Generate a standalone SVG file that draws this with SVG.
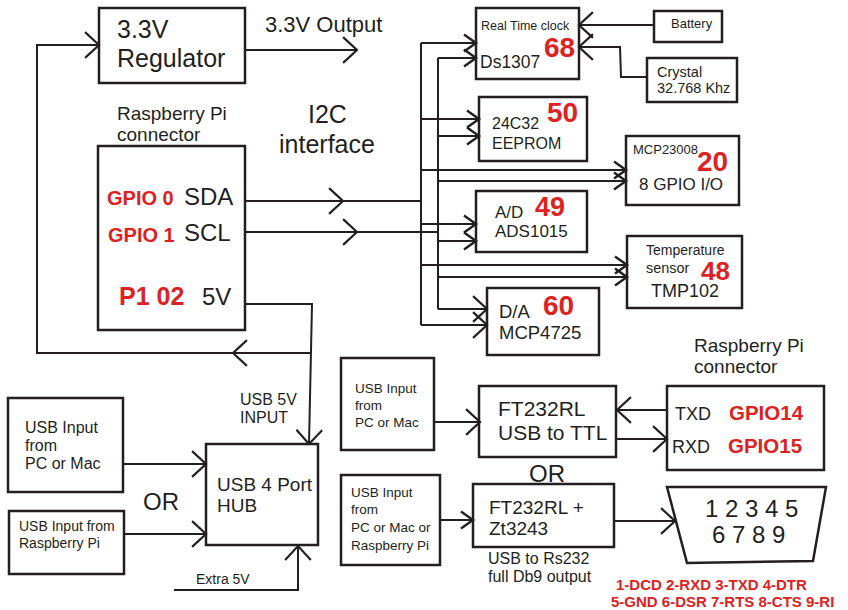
<svg xmlns="http://www.w3.org/2000/svg" width="848" height="610" viewBox="0 0 848 610">
<style>
  .box { fill: none; stroke: #231f20; stroke-width: 2.5; }
  .ln { fill: none; stroke: #231f20; stroke-width: 2; }
  .t { font-family: "Liberation Sans", Arial, sans-serif; fill: #231f20; }
  .r { font-family: "Liberation Sans", Arial, sans-serif; fill: #dc2222; font-weight: bold; }
</style>
<defs>
  <marker id="a" markerUnits="userSpaceOnUse" markerWidth="24" markerHeight="24" viewBox="-12 -10 14 20" refX="0" refY="0" orient="auto" overflow="visible">
    <path d="M-10,-7 L0,0 L-10,7" fill="none" stroke="#231f20" stroke-width="2"/>
  </marker>
  <marker id="ab" markerUnits="userSpaceOnUse" markerWidth="30" markerHeight="30" viewBox="-16 -14 18 28" refX="0" refY="0" orient="auto" overflow="visible">
    <path d="M-13,-12 L0,0 L-13,12" fill="none" stroke="#231f20" stroke-width="2"/>
  </marker>
</defs>
<rect width="848" height="610" fill="#ffffff"/>

<g id="connectors">
  <path class="ln" d="M311,353 L233,353" marker-end="url(#ab)"/>
  <path class="ln" d="M233,353 L37,353 L37,45 L99,45" marker-end="url(#ab)"/>
  <path class="ln" d="M245,304 L312,304 L309,444" marker-end="url(#ab)"/>
  <path class="ln" d="M245,50 L357,50" marker-end="url(#ab)"/>
  <path class="ln" d="M245,201 L343,201" marker-end="url(#ab)"/>
  <path class="ln" d="M343,201 L421,201"/>
  <path class="ln" d="M245,232 L357,232" marker-end="url(#ab)"/>
  <path class="ln" d="M357,232 L438,232"/>
  <path class="ln" d="M421,43 L421,325"/>
  <path class="ln" d="M438,58 L438,309"/>
  <path class="ln" d="M421,43 L476,43" marker-end="url(#a)"/>
  <path class="ln" d="M421,119 L479,119" marker-end="url(#a)"/>
  <path class="ln" d="M421,170 L626,170" marker-end="url(#a)"/>
  <path class="ln" d="M421,224 L476,224" marker-end="url(#a)"/>
  <path class="ln" d="M421,265 L627,265" marker-end="url(#a)"/>
  <path class="ln" d="M421,325 L487,325" marker-end="url(#ab)"/>
  <path class="ln" d="M438,58 L476,58" marker-end="url(#a)"/>
  <path class="ln" d="M438,136 L479,136" marker-end="url(#a)"/>
  <path class="ln" d="M438,181 L626,181" marker-end="url(#a)"/>
  <path class="ln" d="M438,241 L476,241" marker-end="url(#a)"/>
  <path class="ln" d="M438,277 L627,277" marker-end="url(#a)"/>
  <path class="ln" d="M438,309 L487,309" marker-end="url(#ab)"/>
  <path class="ln" d="M654,25 L579,25" marker-end="url(#ab)"/>
  <path class="ln" d="M647,77 L621,77 L620,47 L579,47" marker-end="url(#ab)"/>
  <path class="ln" d="M123,464 L206,464" marker-end="url(#ab)"/>
  <path class="ln" d="M124,534 L206,534" marker-end="url(#ab)"/>
  <path class="ln" d="M174,590 L298,590 L298,546" marker-end="url(#ab)"/>
  <path class="ln" d="M434,422 L480,422" marker-end="url(#ab)"/>
  <path class="ln" d="M667,410 L617,410" marker-end="url(#ab)"/>
  <path class="ln" d="M616,439 L667,439" marker-end="url(#ab)"/>
  <path class="ln" d="M440,520 L473,520" marker-end="url(#a)"/>
  <path class="ln" d="M614,521 L675,521" marker-end="url(#ab)"/>
</g>

<g id="regulator">
  <rect class="box" x="99" y="8" width="146" height="75"/>
  <text class="t" x="117" y="38" font-size="25">3.3V</text>
  <text class="t" x="117" y="67" font-size="25">Regulator</text>
</g>
<g id="output-label">
  <text class="t" x="265" y="32" font-size="22">3.3V Output</text>
</g>
<g id="rpi-label">
  <text class="t" x="117" y="120" font-size="19">Raspberry Pi</text>
  <text class="t" x="117" y="141" font-size="19">connector</text>
</g>
<g id="i2c-label">
  <text class="t" x="308" y="123" font-size="25">I2C</text>
  <text class="t" x="279" y="153" font-size="25">interface</text>
</g>
<g id="rpi-connector">
  <rect class="box" x="98" y="146" width="147" height="184"/>
  <text class="r" x="107" y="205" font-size="20">GPIO 0</text>
  <text class="t" x="184" y="205" font-size="24">SDA</text>
  <text class="r" x="108" y="242" font-size="20">GPIO 1</text>
  <text class="t" x="184" y="241" font-size="24">SCL</text>
  <text class="r" x="119" y="305" font-size="25">P1 02</text>
  <text class="t" x="202" y="305" font-size="24">5V</text>
</g>

<g id="rtc">
  <rect class="box" x="476" y="8" width="103" height="71"/>
  <text class="t" x="481" y="30" font-size="12.5">Real Time clock</text>
  <text class="r" x="544" y="57" font-size="28">68</text>
  <text class="t" x="480" y="68" font-size="17.5">Ds1307</text>
</g>
<g id="battery">
  <rect class="box" x="654" y="11" width="68" height="31"/>
  <text class="t" x="671" y="28" font-size="13">Battery</text>
</g>
<g id="crystal">
  <rect class="box" x="647" y="58" width="90" height="44"/>
  <text class="t" x="657" y="77" font-size="14.5">Crystal</text>
  <text class="t" x="657" y="93" font-size="14.5">32.768 Khz</text>
</g>
<g id="eeprom">
  <rect class="box" x="479" y="97" width="108" height="64"/>
  <text class="t" x="492" y="129" font-size="16">24C32</text>
  <text class="r" x="547" y="122" font-size="28">50</text>
  <text class="t" x="492" y="149" font-size="16">EEPROM</text>
</g>
<g id="mcp23008">
  <rect class="box" x="626" y="136" width="113" height="69"/>
  <text class="t" x="633" y="154" font-size="13">MCP23008</text>
  <text class="r" x="697" y="171" font-size="28">20</text>
  <text class="t" x="639" y="190" font-size="17">8 GPIO I/O</text>
</g>
<g id="adc">
  <rect class="box" x="476" y="191" width="111" height="61"/>
  <text class="t" x="495" y="218" font-size="17">A/D</text>
  <text class="r" x="535" y="216" font-size="27">49</text>
  <text class="t" x="495" y="237" font-size="17">ADS1015</text>
</g>
<g id="temperature">
  <rect class="box" x="627" y="236" width="115" height="72"/>
  <text class="t" x="646" y="255" font-size="14">Temperature</text>
  <text class="t" x="646" y="273" font-size="14.4">sensor</text>
  <text class="r" x="701" y="280" font-size="26">48</text>
  <text class="t" x="651" y="297" font-size="18">TMP102</text>
</g>
<g id="dac">
  <rect class="box" x="487" y="288" width="112" height="67"/>
  <text class="t" x="499" y="318" font-size="18.5">D/A</text>
  <text class="r" x="543" y="315" font-size="28">60</text>
  <text class="t" x="499" y="339" font-size="18.5">MCP4725</text>
</g>

<g id="usb5v-label">
  <text class="t" x="240" y="405" font-size="16">USB 5V</text>
  <text class="t" x="240" y="423" font-size="16">INPUT</text>
</g>
<g id="usb-pc">
  <rect class="box" x="8" y="398" width="115" height="94"/>
  <text class="t" x="25" y="433" font-size="16">USB Input</text>
  <text class="t" x="25" y="451" font-size="16">from</text>
  <text class="t" x="25" y="469" font-size="16">PC or Mac</text>
</g>
<g id="or-left">
  <text class="t" x="143" y="510" font-size="24">OR</text>
</g>
<g id="usb-rpi">
  <rect class="box" x="9" y="511" width="115" height="63"/>
  <text class="t" x="19" y="531" font-size="14">USB Input from</text>
  <text class="t" x="19" y="548" font-size="14">Raspberry Pi</text>
</g>
<g id="hub">
  <rect class="box" x="206" y="444" width="112" height="101"/>
  <text class="t" x="217" y="491" font-size="19">USB 4 Port</text>
  <text class="t" x="217" y="512" font-size="19">HUB</text>
</g>
<g id="extra5v-label">
  <text class="t" x="196" y="584" font-size="14">Extra 5V</text>
</g>

<g id="rpi-label-2">
  <text class="t" x="694" y="352" font-size="19">Raspberry Pi</text>
  <text class="t" x="694" y="373" font-size="19">connector</text>
</g>
<g id="usb-pc-2">
  <rect class="box" x="341" y="358" width="93" height="92"/>
  <text class="t" x="355" y="393" font-size="13.5">USB Input</text>
  <text class="t" x="355" y="410" font-size="13.5">from</text>
  <text class="t" x="355" y="427" font-size="13.5">PC or Mac</text>
</g>
<g id="ft232-ttl">
  <rect class="box" x="479" y="386" width="137" height="71"/>
  <text class="t" x="498" y="416" font-size="21">FT232RL</text>
  <text class="t" x="498" y="440" font-size="21">USB to TTL</text>
</g>
<g id="rpi-connector-2">
  <rect class="box" x="667" y="386" width="157" height="84"/>
  <text class="t" x="675" y="420" font-size="18">TXD</text>
  <text class="r" x="729" y="420" font-size="20.5">GPIO14</text>
  <text class="t" x="672" y="453" font-size="18">RXD</text>
  <text class="r" x="728" y="453" font-size="20.5">GPIO15</text>
</g>
<g id="or-right">
  <text class="t" x="529" y="482" font-size="24">OR</text>
</g>
<g id="usb-pc-3">
  <rect class="box" x="341" y="475" width="99" height="90"/>
  <text class="t" x="351" y="497" font-size="13.5">USB Input</text>
  <text class="t" x="351" y="514" font-size="13.5">from</text>
  <text class="t" x="351" y="532" font-size="13.5">PC or Mac or</text>
  <text class="t" x="351" y="550" font-size="13.5">Raspberry Pi</text>
</g>
<g id="ft232-rs232">
  <rect class="box" x="473" y="484" width="141" height="63"/>
  <text class="t" x="489" y="514" font-size="19">FT232RL +</text>
  <text class="t" x="489" y="535" font-size="19">Zt3243</text>
  <text class="t" x="488" y="564" font-size="16">USB to Rs232</text>
  <text class="t" x="488" y="582" font-size="16">full Db9 output</text>
</g>
<g id="db9">
  <path class="box" d="M667,487 L826,487 L813,561 L687,563 Z"/>
  <text class="t" x="705" y="517" font-size="24">1 2 3 4 5</text>
  <text class="t" x="712" y="543" font-size="24">6 7 8 9</text>
  <text class="r" x="616" y="590" font-size="15">1-DCD 2-RXD 3-TXD 4-DTR</text>
  <text class="r" x="611" y="607" font-size="15">5-GND 6-DSR 7-RTS 8-CTS 9-RI</text>
</g>
</svg>
